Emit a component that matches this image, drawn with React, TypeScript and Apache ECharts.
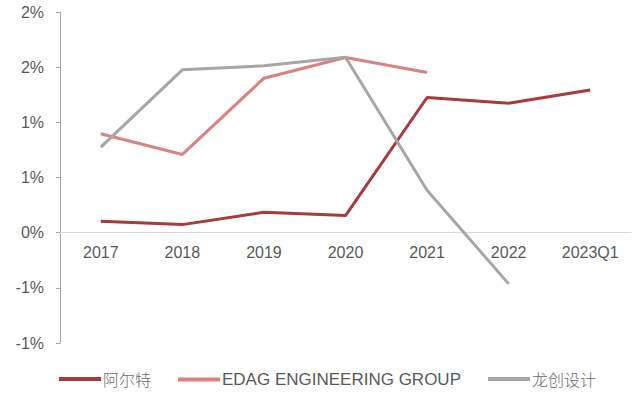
import React, { useEffect, useRef } from "react";
import * as echarts from "echarts";

const categories = ["2017", "2018", "2019", "2020", "2021", "2022", "2023Q1"];
const arte = [0.103, 0.073, 0.185, 0.155, 1.225, 1.173, 1.294];
const edag = [0.897, 0.709, 1.4, 1.588, 1.452, null, null];
const longchuang = [0.776, 1.476, 1.512, 1.59, 0.385, -0.464, null];
const seriesNames = ["阿尔特", "EDAG ENGINEERING GROUP", "龙创设计"];
const colors = ["#A83A3A", "#D98282", "#A6A6A6"];
const legendLefts = [59, 178, 488];

export default function App() {
  const ref = useRef<HTMLDivElement>(null);
  useEffect(() => {
    document.body.style.margin = "0";
    const chart = echarts.init(ref.current!, undefined, { renderer: "svg" });
    const font = "'Liberation Sans', Arial, 'Noto Sans CJK SC', sans-serif";
    const mk = (name: string, data: (number | null)[], color: string) => ({
      name,
      type: "line",
      data,
      symbol: "none",
      lineStyle: { color, width: 3 },
      itemStyle: { color },
    });
    const top = 12;
    const bottom = 53;
    const plotH = 396 - top - bottom;
    const zeroFromBottom = (plotH * 1) / 3;
    chart.setOption({
      animation: false,
      textStyle: { fontFamily: font },
      grid: { left: 60, right: 8, top, bottom },
      legend: seriesNames.map((n, i) => ({
        data: [n],
        left: legendLefts[i],
        top: 371,
        padding: 0,
        icon: "rect",
        itemWidth: 42,
        itemHeight: 4,
        itemGap: 0,
        formatter: (name: string) =>
          /[A-Z]/.test(name) ? `{en|${name}}` : `{zh|${name}}`,
        textStyle: {
          color: "#595959",
          padding: [0, 0, 0, -3],
          rich: {
            en: { fontSize: 17, color: "#595959", fontFamily: font },
            zh: {
              fontSize: 16,
              color: "#6b6b6b",
              fontFamily: "'Noto Sans CJK SC', sans-serif",
              fontWeight: 300,
            },
          },
        },
      })),
      xAxis: {
        type: "category",
        data: categories,
        boundaryGap: true,
        offset: -zeroFromBottom,
        axisLine: { onZero: false, lineStyle: { color: "#D9D9D9", width: 1 } },
        axisTick: { show: false },
        axisLabel: { color: "#595959", fontSize: 16, margin: 12 },
      },
      yAxis: {
        type: "value",
        min: -1,
        max: 2,
        interval: 0.5,
        axisLine: { show: true, lineStyle: { color: "#A6A6A6", width: 1 } },
        axisTick: { show: true, length: 4, lineStyle: { color: "#A6A6A6" } },
        splitLine: { show: false },
        axisLabel: {
          color: "#595959",
          fontSize: 16,
          margin: 16,
          formatter: (v: number) => {
            const r = Math.sign(v) * Math.round(Math.abs(v));
            return (r === 0 ? 0 : r) + "%";
          },
        },
      },
      series: [
        mk(seriesNames[0], arte, colors[0]),
        mk(seriesNames[1], edag, colors[1]),
        mk(seriesNames[2], longchuang, colors[2]),
      ],
    });
    return () => chart.dispose();
  }, []);
  return <div ref={ref} style={{ width: 639, height: 396 }} />;
}
